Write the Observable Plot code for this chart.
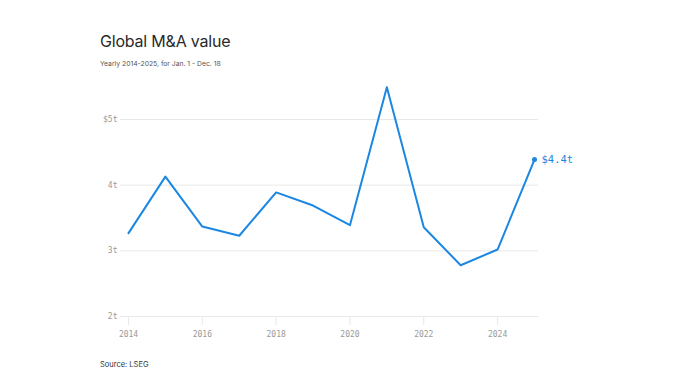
<!DOCTYPE html>
<html><head><meta charset="utf-8">
<script src="https://cdn.jsdelivr.net/npm/d3@7"></script>
<script src="https://cdn.jsdelivr.net/npm/@observablehq/plot@0.6"></script>
<style>
body{margin:0;background:#fff;font-family:Inter,"Noto Sans",sans-serif;width:680px;height:379px;overflow:hidden;position:relative}
#title{position:absolute;left:100px;top:31px;font-size:16px;color:#2a2a2a;letter-spacing:-0.2px}
#sub{position:absolute;left:100px;top:59px;font-size:6.8px;color:#555}
#src{position:absolute;left:100px;top:360px;font-size:7.5px;color:#333}
#chart{position:absolute;left:0;top:80px}
</style></head>
<body>
<div id="title">Global M&amp;A value</div>
<div id="sub">Yearly 2014-2025, for Jan. 1 - Dec. 18</div>
<div id="chart"></div>
<div id="src">Source: LSEG</div>
<script>
const years = [2014,2015,2016,2017,2018,2019,2020,2021,2022,2023,2024,2025];
const values = [3.27,4.13,3.37,3.23,3.89,3.69,3.39,5.49,3.36,2.78,3.02,4.39];
const yTicks = [2,3,4,5];
const yTickLabels = ["2t","3t","4t","$5t"];
const xTicks = [2014,2016,2018,2020,2022,2024];
const lastLabel = "$4.4t";

const data = years.map((y,i)=>({year:y, value:values[i]}));
const last = data[data.length-1];

const chart = Plot.plot({
  width: 680,
  height: 270,
  marginLeft: 120,
  marginRight: 142,
  marginTop: 0,
  marginBottom: 34,
  style: {fontFamily: "'DejaVu Sans Mono', monospace", fontSize: "8px", color: "#999", background: "transparent", overflow: "visible"},
  x: {domain: [2014, 2025], range: [128, 534], ticks: xTicks, tickFormat: d => String(d), label: null},
  y: {domain: [2, 5], range: [236, 39], ticks: yTicks, label: null},
  marks: [
    Plot.ruleY(yTicks, {stroke: "#e8e8e8", strokeWidth: 1}),
    Plot.axisY({ticks: yTicks, tickSize: 0, tickPadding: 3, tickFormat: d => yTickLabels[yTicks.indexOf(d)], fill: "#999", fontSize: 8}),
    Plot.axisX({ticks: xTicks, tickSize: 9, tickPadding: 6, stroke: "#e8e8e8", fill: "#999", fontSize: 8, tickFormat: d => String(d)}),
    Plot.line(data, {x: "year", y: "value", stroke: "#1b87e2", strokeWidth: 2, curve: "linear"}),
    Plot.dot([last], {x: "year", y: "value", r: 2.5, fill: "#1b87e2"}),
    Plot.text([last], {x: "year", y: "value", text: () => lastLabel, dx: 7, textAnchor: "start", fill: "#1b87e2", fontSize: 10.5, fontFamily: "'DejaVu Sans Mono', monospace"})
  ]
});
document.getElementById("chart").appendChild(chart);
</script>
</body></html>
